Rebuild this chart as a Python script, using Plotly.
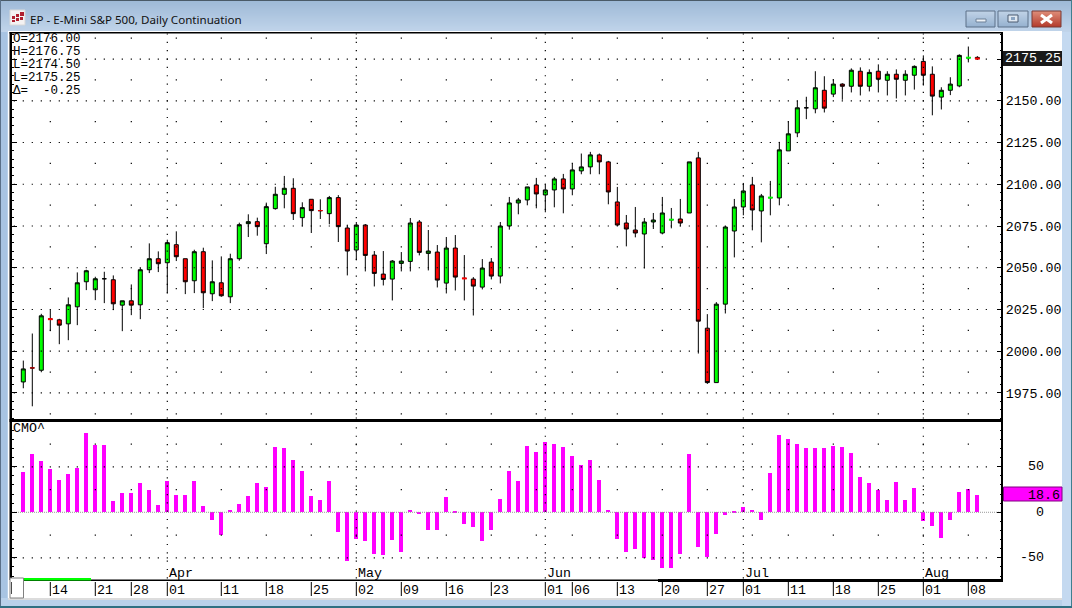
import plotly.graph_objects as go

# ---------- data ----------
opens = [1981.6,1990,1988.6,2019.2,2018.8,2016.4,2026.6,2041.6,2036.8,2043.4,2042.8,2027.6,2030.2,2027.8,2048.8,2055.4,2053,2063.8,2055.4,2042.2,
2059.6,2034.4,2041,2032.6,2055.4,2076.4,2077.6,2064.4,2085.4,2094,2097.6,2080,2091,2084.2,2082.4,2092,2073.8,2060.6,2075.6,2057.6,
2046.2,2043.2,2052.6,2053.8,2077.4,2058.6,2059.4,2040.8,2061.8,2043.6,2043.2,2038.4,2053.4,2045,2075,2088.8,2090.6,2099.6,2093.6,2096.6,
2103.2,2097.2,2108,2110.4,2117.6,2113.4,2089.4,2076.8,2072.6,2070.2,2077.4,2070.8,2078.8,2079.2,2082.8,2115.8,2013.8,1981.2,2028.2,2072,
2086.4,2099.6,2084,2092,2091.8,2120,2130.8,2145.8,2145.2,2156.3,2154,2160,2158.7,2167.7,2158.7,2167.7,2162.3,2165.9,2162.3,2165.3,
2173.6,2165.9,2152.2,2156.3,2158.9,2175.8,2176]
highs = [1994.4,2010.6,2022.4,2024.8,2019.4,2032.2,2047.2,2048.8,2044.6,2047.6,2045.4,2030.2,2040,2050,2064.6,2059.8,2066.8,2071.8,2055.4,2060.8,
2062,2054.4,2056.8,2058.4,2077,2082,2080,2089,2098.5,2105,2103.6,2089.2,2091,2091,2093,2093.5,2075.8,2077.4,2076.2,2060,
2060,2054.6,2059.4,2079.8,2078.6,2072.6,2063.6,2068.4,2069.6,2057.6,2044.4,2055.2,2055.8,2077.4,2092.4,2091.8,2098.4,2103.8,2099.6,2104.4,
2106.2,2112.2,2118.4,2119.4,2118.4,2114,2098.4,2081.6,2086.4,2079.8,2082.8,2092.4,2085.8,2091.2,2113.4,2119.4,2022.2,2029.4,2075,2091.2,
2100.8,2104.4,2094.2,2102,2125.4,2137.4,2150,2152.4,2167.7,2164.7,2162.9,2160.5,2169.4,2170,2168.8,2171.8,2167.7,2168.8,2168.3,2171.2,
2177.2,2170.6,2158.1,2164.1,2177.8,2182.5,2176.75]
lows = [1977.8,1967,1987.4,2012,2004.2,2006.6,2015.6,2036.6,2030.6,2028.8,2024.6,2012,2021.6,2019.2,2046.8,2047.4,2034.8,2054,2034.2,2034.8,
2025.8,2030,2032.6,2028.8,2054.2,2068.4,2069.2,2058.2,2084.8,2085.6,2078.6,2074.8,2070.8,2079.2,2076,2065.4,2045.4,2054.4,2047.8,2038.8,
2039.4,2030.4,2047.8,2047.8,2057.4,2048.4,2038.2,2034.6,2036.4,2030.4,2021.4,2037,2043,2040.6,2072.8,2082,2087.4,2085.6,2083.2,2086.2,
2082.6,2093.4,2106,2106,2106,2088,2075,2062.8,2068.2,2049.6,2073.2,2070,2073.6,2074.8,2082.8,1998.6,1980.4,1981.2,2022.6,2056.2,
2081.4,2072.4,2065.2,2081.4,2087.4,2120,2128.2,2139,2142.5,2143,2152.2,2150.6,2155,2153.2,2155.6,2155,2153.2,2151.4,2153.2,2156.7,
2159.1,2141.3,2144.8,2153.4,2158.1,2173,2174.5]
closes = [1989.4,1990,2021.2,2019.2,2015.6,2027.8,2041,2048.2,2043.4,2043.4,2028.4,2030.2,2027.6,2048.8,2055.4,2052.4,2065,2056.6,2041.6,2059.6,
2035,2041.6,2033.2,2055.4,2075.8,2077.6,2074.6,2086.6,2094,2097.6,2082.4,2086,2084.2,2084.2,2092,2074.6,2060,2075.6,2057.4,2046.6,
2043,2054,2054,2076.8,2059.2,2060,2042.6,2061.8,2044.4,2043.6,2039,2049.8,2045,2075,2088.8,2090.6,2098.4,2094.2,2096.6,2103.2,
2097.2,2108.6,2110.4,2117.6,2113.4,2095.4,2075.6,2073.2,2070.8,2077.4,2078.6,2082.8,2078.8,2076.8,2113.4,2018,1981.2,2028.2,2074.4,2086.4,
2096,2084.6,2093,2092,2120.6,2130.2,2145.8,2145.8,2157.8,2145.6,2160,2158.7,2168.3,2158.7,2167,2162.9,2165.9,2162.9,2165.9,2170.6,
2165.3,2152.8,2156.3,2160,2177.2,2175.8,2175.25]
cmo = [44.5,64.3,56.6,47.8,35.7,42.3,48.9,87.5,74.3,74.3,12.5,21.3,21.3,32.4,24.6,8.1,34.6,19.1,19.1,34.6,
7,-8.5,-25,2.6,9.2,18,32.4,27.9,72,71,57.7,45.6,18,13.6,34.6,-21.7,-53.7,-29.4,-31.6,-46,
-47,-30.5,-43.8,2.6,-1.8,-19.5,-19.5,16.9,1.5,-12.9,-16.2,-31.6,-19.5,14.7,45.6,34.6,73.2,66.5,77.6,75.4,
72,62.1,52.2,57.7,35.7,2.6,-29.4,-43.8,-40.4,-50.4,-52.6,-61.4,-61.4,-46,64.3,-38.2,-49.3,-23.9,-2.9,1.5,
5.9,2.6,-8.5,43.4,85.3,80.9,75.4,71,71,71,73.2,72,65.4,39,32.4,24.6,13.6,33.5,13.6,26.8,
-9.6,-15,-28.3,-8.5,22.4,25.7,18.6]
bars = list(range(len(closes)))

date_pos = [3,8,12,16,22,27,32,37,42,47,52,58,61,66,71,76,80,85,90,95,100,105]
date_labels = ["14","21","28","01","11","18","25","02","09","16","23","01","06","13","20","27","01","11","18","25","01","08"]
month_pos = [16,37,58,80,100]
month_labels = ["Apr","May","Jun","Jul","Aug"]
week_pos = [3,8,12,17,22,27,32,37,42,47,52,57,61,66,71,76,81,85,90,95,100,105]

price_ticks = [1975,2000,2025,2050,2075,2100,2125,2150,2175]
price_minor_rows = [1962.5,1987.5,2012.5,2037.5,2062.5,2087.5,2112.5,2137.5,2162.5,2187.5]
cmo_ticks = [-50,0,50]
cmo_dot_rows = [-50,50]
cmo_minor_rows = [-25,25,75]

doji_idx = [1,3,33,49,72,83,105,106]
doji_colors = ["#ff0000","#ff0000","#ff0000","#ff0000","#00ff00","#00ff00","#00ff00","#ff0000"]
doji_widths = [1,2,1,2,2,2,2,2]

title_text = "EP - E-Mini S&P 500, Daily Continuation"

MONO = "Liberation Mono"
W, H = 1072, 608
PX = lambda v: v / W
PY = lambda v: 1 - v / H

XR = [-1.256, 108.74]
Y1 = [1959.4, 2191.2]
Y2 = [-73.3, 100.3]

fig = go.Figure()

# ---------- dotted grid ----------
gx, gy = [], []
for r in price_ticks:
    gx += list(range(-1, 108)); gy += [r] * 109
for r in price_minor_rows:
    gx += week_pos; gy += [r] * len(week_pos)
for m in month_pos:
    v = 1960
    while v <= 2190:
        gx.append(m); gy.append(v); v += 5
fig.add_trace(go.Scatter(x=gx, y=gy, mode="markers", xaxis="x", yaxis="y", hoverinfo="skip",
    marker=dict(symbol="square", size=1.2, color="#000000", line=dict(width=0))))

gx2, gy2 = [], []
for r in cmo_dot_rows:
    gx2 += list(range(-1, 108)); gy2 += [r] * 109
for r in cmo_minor_rows:
    gx2 += week_pos; gy2 += [r] * len(week_pos)
for m in month_pos:
    v = -72
    while v <= 98:
        gx2.append(m); gy2.append(v); v += 9.15
fig.add_trace(go.Scatter(x=gx2, y=gy2, mode="markers", xaxis="x2", yaxis="y2", hoverinfo="skip",
    marker=dict(symbol="square", size=1.2, color="#000000", line=dict(width=0))))

# ---------- candles ----------
fig.add_trace(go.Candlestick(x=bars, open=opens, high=highs, low=lows, close=closes, xaxis="x", yaxis="y",
    increasing=dict(fillcolor="#00ff00", line=dict(color="#000000", width=1)),
    decreasing=dict(fillcolor="#ff0000", line=dict(color="#000000", width=1)),
    whiskerwidth=0))
fig.add_trace(go.Scatter(x=doji_idx, y=[closes[i] for i in doji_idx], mode="markers", xaxis="x", yaxis="y",
    hoverinfo="skip",
    marker=dict(symbol="line-ew", size=3.4, color=doji_colors, line=dict(color=doji_colors, width=doji_widths))))

# ---------- CMO ----------
fig.add_trace(go.Scatter(x=[XR[0], XR[1]], y=[0, 0], mode="lines", xaxis="x2", yaxis="y2", hoverinfo="skip",
    line=dict(color="#9a9a9a", width=1, dash="1px,1px")))
fig.add_trace(go.Bar(x=bars, y=cmo, width=0.44, xaxis="x2", yaxis="y2",
    marker=dict(color="#ff00ff", line=dict(width=0))))

# ---------- window chrome ----------
shapes = []
def rect(x0, y0, x1, y1, fill, line=None, lw=0, layer="below"):
    shapes.append(dict(type="rect", xref="paper", yref="paper", x0=PX(x0), x1=PX(x1), y0=PY(y0), y1=PY(y1),
                       fillcolor=fill, line=dict(color=line or fill, width=lw), layer=layer))

def mix(a, b, t):
    return "#%02x%02x%02x" % tuple(round(a[k] + (b[k] - a[k]) * t) for k in range(3))

rect(0, 0, W, H, "#b9d1ea")
for row in range(1, 32):
    rect(0, row, W, row + 1, mix((158, 185, 215), (192, 212, 234), row / 31))
rect(0, 0, W, 1, "#4a5a68")
rect(0, 0, 1, H, "#5a7088")
rect(W - 1, 0, W, H, "#3f7f8f")
rect(1, 32, 7, 598, "#a8c4e2")
rect(1062, 32, W - 1, 606, "#c4d9f0")
rect(8, 31, 1062, 598, "#ffffff")
rect(8, 598, 1062, 600, "#dcdcdc")
rect(0, 606, W, H, "#2f7082")

# title icon
rect(10, 10, 25, 25, "#f4f2f2", "#d8d8d8", 1)
for (a, b, c, d) in [(12, 16, 15, 19), (16, 14, 19, 17), (20, 12, 24, 16), (16, 18, 19, 21), (20, 17, 23, 20), (12, 20, 15, 22)]:
    rect(a, b, c, d, "#b02030")

# window buttons
def button(x0, x1, top, bot, edge):
    for k in range(16):
        rect(x0, 11 + k, x1, 12 + k, mix(top, bot, k / 15))
    shapes.append(dict(type="rect", xref="paper", yref="paper", x0=PX(x0), x1=PX(x1), y0=PY(11), y1=PY(27),
                       line=dict(color=edge, width=1), fillcolor="rgba(0,0,0,0)", layer="below"))
button(966, 995, (192, 210, 230), (150, 178, 208), "#5c7088")
button(998, 1028, (192, 210, 230), (150, 178, 208), "#5c7088")
button(1032, 1061, (222, 140, 120), (180, 60, 45), "#7a3a34")
rect(976, 19, 986, 22, "#eef2f6", "#6c8098", 1)
rect(1008, 15, 1018, 22, "#dfe8f2", "#4a5a70", 1)
rect(1011, 17, 1015, 20, "#8aa4c2")
shapes.append(dict(type="path", xref="paper", yref="paper", layer="below",
    path=f"M {PX(1041)} {PY(15)} L {PX(1052)} {PY(23)} M {PX(1052)} {PY(15)} L {PX(1041)} {PY(23)}",
    line=dict(color="#ffffff", width=3)))

# panel frame
rect(9.5, 32, 11.5, 580, "#000000", layer="above")
rect(1001, 32, 1003, 582, "#000000", layer="above")
rect(9.5, 32, 1003, 33.5, "#000000", layer="above")
rect(9.5, 419, 1003, 422, "#000000", layer="above")
rect(24, 579.5, 658, 581, "#000000", layer="above")
rect(658, 579, 1003, 582, "#000000", layer="above")
rect(24, 578, 91, 580.5, "#00ff00", layer="above")
rect(10, 578, 23.5, 598, "#ffffff", "#808080", 1, layer="above")
rect(11, 582, 11.7, 594, "#000000", layer="above")

# date ticks
for p in date_pos:
    shapes.append(dict(type="line", xref="x2", yref="paper", x0=p, x1=p, y0=PY(582), y1=PY(596),
                       line=dict(color="#000000", width=1), layer="above"))

# readout boxes
rect(1003, 51, 1062, 66, "#1a1a1a", layer="above")
rect(1003.5, 487, 1062, 501, "#ff00ff", "#800080", 1, layer="above")

# ---------- text ----------
ann = []
def text(x, y, s, size=13.3, color="#000000", anchor="left", family=MONO, xref="paper", yref="paper"):
    ann.append(dict(x=x, y=y, xref=xref, yref=yref, text=s, showarrow=False, xanchor=anchor, yanchor="middle",
                    font=dict(family=family, size=size, color=color), borderpad=0, borderwidth=0))

text(PX(30), PY(19), title_text, size=11.6, family="Noto Sans", color="#111111")
read = [f"O={opens[-1]:.2f}", f"H={highs[-1]:.2f}", f"L={lows[-1]:.2f}", f"L={closes[-1]:.2f}",
        f"\u0394=\u00a0\u00a0{-0.25:.2f}"]
for k, s in enumerate(read):
    text(PX(12.5), PY(38.6 + 13.1 * k), s, size=12.5)
text(PX(12.5), PY(428), "CMO^")
text(PX(1004.5), closes[-1], f"{closes[-1]:.2f}", color="#ffffff", yref="y")
text(PX(1060), cmo[-1], f"{cmo[-1]:.1f}", anchor="right", yref="y2")
for v in cmo_ticks:
    text(PX(1044), v, str(v), anchor="right", yref="y2")
for p, s in zip(date_pos, date_labels):
    ann.append(dict(x=p, y=PY(590), xref="x2", yref="paper", text=s, showarrow=False, xanchor="left", yanchor="middle",
                    xshift=0, font=dict(family=MONO, size=13.3, color="#000000")))
for p, s in zip(month_pos, month_labels):
    ann.append(dict(x=p, y=PY(573), xref="x2", yref="paper", text=s, showarrow=False, xanchor="left", yanchor="middle",
                    xshift=0, font=dict(family=MONO, size=13.3, color="#000000")))

axis_common = dict(showgrid=False, zeroline=False, range=XR, showline=False, ticks="", showticklabels=False, fixedrange=True)
fig.update_layout(
    width=W, height=H, margin=dict(l=0, r=0, t=0, b=0), showlegend=False, autosize=False,
    paper_bgcolor="#b9d1ea", plot_bgcolor="#ffffff", boxgap=0.556, boxgroupgap=0, bargap=0,
    xaxis=dict(domain=[PX(12), PX(1002)], anchor="y", rangeslider=dict(visible=False), **axis_common),
    xaxis2=dict(domain=[PX(12), PX(1002)], anchor="y2", **axis_common),
    yaxis=dict(domain=[PY(419), PY(32)], range=Y1, side="right", anchor="x", showgrid=False, zeroline=False,
               tickmode="array", tickvals=price_ticks,
               ticktext=[f"{v:.2f}" if v != 2175 else "" for v in price_ticks],
               tickfont=dict(family=MONO, size=13.3, color="#000000"),
               ticks="inside", ticklen=5, tickwidth=1, tickcolor="#000000", mirror="ticks", showline=True,
               linecolor="#000000", linewidth=1,
               minor=dict(dtick=5, tick0=0, ticks="inside", ticklen=2, tickwidth=1, tickcolor="#000000"), fixedrange=True),
    yaxis2=dict(domain=[PY(579), PY(421)], range=Y2, side="right", anchor="x2", showgrid=False, zeroline=False,
               tickmode="array", tickvals=[-50, 0, 50], ticktext=["", "", ""],
               ticks="inside", ticklen=5, tickwidth=1, tickcolor="#000000", mirror="ticks", showline=True,
               linecolor="#000000", linewidth=1,
               minor=dict(dtick=10, tick0=0, ticks="inside", ticklen=2, tickwidth=1, tickcolor="#000000"), fixedrange=True),
    shapes=shapes, annotations=ann,
)

fig.write_html("out.html", config={"displayModeBar": False}, default_width="1072px", default_height="608px",
               post_script="document.body.style.margin='0';document.documentElement.style.overflow='hidden';")
